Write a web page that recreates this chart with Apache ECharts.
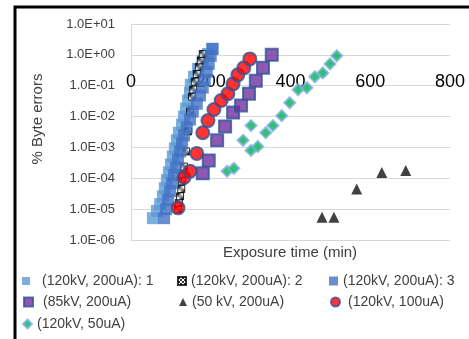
<!DOCTYPE html>
<html>
<head>
<meta charset="utf-8">
<script src="https://cdn.jsdelivr.net/npm/echarts@6/dist/echarts.min.js"></script>
<style>
  html, body { margin: 0; padding: 0; background: #fff; }
  #main { width: 469px; height: 339px; }
</style>
</head>
<body>
<div id="main"></div>
<script>
// exposure time (min), % byte errors
const s1 = [[55,5.1e-6],[65,8.7e-6],[73,1.45e-5],[80,2.6e-5],[85,4.8e-5],[90,8.7e-5],[95,1.55e-4],
  [100,2.8e-4],[105,5.1e-4],[110,9.3e-4],[115,1.7e-3],[120,3.0e-3],[128,5.5e-3],[133,1.0e-2],
  [138,1.8e-2],[143,3.3e-2],[148,5.9e-2],[150,0.107],[158,0.195],[168,0.35],[180,0.64],[193,1.07],[203,1.56]]
const s2 = [[118,1.0e-5],[120,1.6e-5],[123,2.6e-5],[126,4.5e-5],[128,8e-5],[131,1.4e-4],[133,2.4e-4],
  [138,7.4e-4],[143,3.3e-3],[148,1.45e-2],[153,4.4e-2],[156,7.5e-2],[160,0.135],[165,0.24],
  [170,0.41],[175,0.66],[180,1.07]]
const s3 = [[83,5.1e-6],[88,1.0e-5],[93,1.95e-5],[98,3.8e-5],[103,6.9e-5],[108,1.26e-4],[113,2.25e-4],
  [118,4.1e-4],[123,7.4e-4],[128,1.35e-3],[133,2.45e-3],[140,4.4e-3],[148,8e-3],[155,1.45e-2],
  [165,2.6e-2],[173,4.8e-2],[180,8.7e-2],[185,0.155],[190,0.28],[195,0.51],[200,0.93],[205,1.56]]
const s4 = [[180,1.45e-4],[195,3.8e-4],[216,1.7e-3],[236,4.8e-3],[256,1.35e-2],[276,2.3e-2],
  [296,5.5e-2],[313,0.145],[331,0.38],[353,1.0]]
const s5 = [[479,5.5e-6],[509,5.5e-6],[566,4.5e-5],[629,1.55e-4],[689,1.8e-4]]
const s6 = [[118,1.1e-5],[133,1.07e-4],[148,1.7e-4],[165,6.4e-4],[180,3.0e-3],[193,7.4e-3],
  [208,1.7e-2],[226,3.3e-2],[243,5.5e-2],[256,0.115],[268,0.225],[283,0.38],[298,0.74]]
const s7 = [[241,1.7e-4],[258,2.1e-4],[281,1.7e-3],[301,5.1e-3],[301,8e-4],[318,1.07e-3],[338,3.0e-3],
  [356,5.1e-3],[378,1.07e-2],[398,2.8e-2],[419,7.4e-2],[441,8.6e-2],[461,0.195],[481,0.26],[499,0.51],[516,0.93]]

const names = ['(120kV, 200uA): 1', '(120kV, 200uA): 2', '(120kV, 200uA): 3', '(85kV, 200uA)',
  '(50 kV, 200uA)', '(120kV, 100uA)', '(120kV, 50uA)']
const xTicks = [0, 200, 400, 600, 800]
const yTickLabels = ['1.0E-06', '1.0E-05', '1.0E-04', '1.0E-03', '1.0E-02', '1.0E-01', '1.0E+00', '1.0E+01']

// checkered marker fill for series 2
const pc = document.createElement('canvas')
pc.width = 4; pc.height = 4
const pctx = pc.getContext('2d')
pctx.fillStyle = '#fff'; pctx.fillRect(0, 0, 4, 4)
pctx.fillStyle = '#000'; pctx.fillRect(0, 0, 2, 2); pctx.fillRect(2, 2, 2, 2)
const pattern = { image: pc, repeat: 'repeat' }

const font = 'Liberation Sans'
const legendPos = [
  { left: 22, top: 274, w: 8, pad: 7 },
  { left: 177, top: 274, w: 8, pad: 0 },
  { left: 329, top: 274, w: 9, pad: 0 },
  { left: 23, top: 295, w: 9, pad: 5 },
  { left: 179, top: 295, w: 8, pad: 0 },
  { left: 330, top: 295, w: 9, pad: 3 },
  { left: 22, top: 317, w: 9, pad: 0 }
]

let chart = echarts.init(document.getElementById('main'))
chart.setOption({
  animation: false,
  grid: { left: 131, right: 19, top: 24, bottom: 99 },
  legend: legendPos.map((p, i) => ({
    data: [names[i]],
    left: p.left,
    top: p.top,
    padding: 0,
    itemWidth: p.w,
    itemHeight: p.w,
    selectedMode: false,
    textStyle: { fontFamily: font, fontSize: 14, color: '#404040', padding: [0, 0, 0, p.pad] }
  })),
  xAxis: {
    type: 'value',
    min: 0,
    max: 800,
    interval: 200,
    position: 'bottom',
    offset: -155,
    axisLine: { show: false },
    axisTick: { show: false },
    splitLine: { show: false },
    axisLabel: {
      margin: -12,
      fontFamily: font,
      fontSize: 18,
      color: '#000',
      formatter: v => xTicks.includes(v) ? String(v) : ''
    }
  },
  yAxis: {
    type: 'log',
    logBase: 10,
    min: 1e-6,
    max: 10,
    interval: 1,
    axisLine: { show: true, lineStyle: { color: '#d9d9d9', width: 1 } },
    axisTick: { show: false },
    splitLine: { lineStyle: { color: '#d9d9d9', width: 1 } },
    axisLabel: {
      margin: 16,
      fontFamily: font,
      fontSize: 13,
      color: '#404040',
      formatter: v => yTickLabels[Math.round(Math.log10(v)) + 6]
    }
  },
  graphic: [
    {
      type: 'rect',
      shape: { x: 15, y: 7, width: 600, height: 500 },
      style: { fill: 'none', stroke: '#000', lineWidth: 3 },
      silent: true
    },
    {
      type: 'text',
      x: 38, y: 119,
      rotation: Math.PI / 2,
      style: { text: '% Byte errors', font: '15px "Liberation Sans"', fill: '#404040', align: 'center', verticalAlign: 'middle' }
    },
    {
      type: 'text',
      x: 290, y: 253,
      style: { text: 'Exposure time (min)', font: '15px "Liberation Sans"', fill: '#404040', align: 'center', verticalAlign: 'middle' }
    }
  ],
  series: [
    { name: names[0], type: 'scatter', symbol: 'rect', symbolSize: 12, data: s1,
      itemStyle: { color: '#5b9bd5' } },
    { name: names[1], type: 'scatter', symbol: 'rect', symbolSize: 7, data: s2,
      itemStyle: { color: pattern, borderColor: '#000', borderWidth: 1 } },
    { name: names[2], type: 'scatter', symbol: 'rect', symbolSize: 12, data: s3,
      itemStyle: { color: '#4472c4' } },
    { name: names[3], type: 'scatter', symbol: 'rect', symbolSize: 12, data: s4,
      itemStyle: { color: '#7030a0', borderColor: '#2f5597', borderWidth: 2 } },
    { name: names[4], type: 'scatter', symbol: 'triangle', symbolSize: 11, data: s5,
      itemStyle: { color: '#111' } },
    { name: names[5], type: 'scatter', symbol: 'circle', symbolSize: 13, data: s6,
      itemStyle: { color: '#ff0000', borderColor: '#2f5597', borderWidth: 2 } },
    { name: names[6], type: 'scatter', symbol: 'diamond', symbolSize: 11, data: s7,
      itemStyle: { color: '#00b050', borderColor: '#7fb2e5', borderWidth: 2 } }
  ]
})
</script>
</body>
</html>
